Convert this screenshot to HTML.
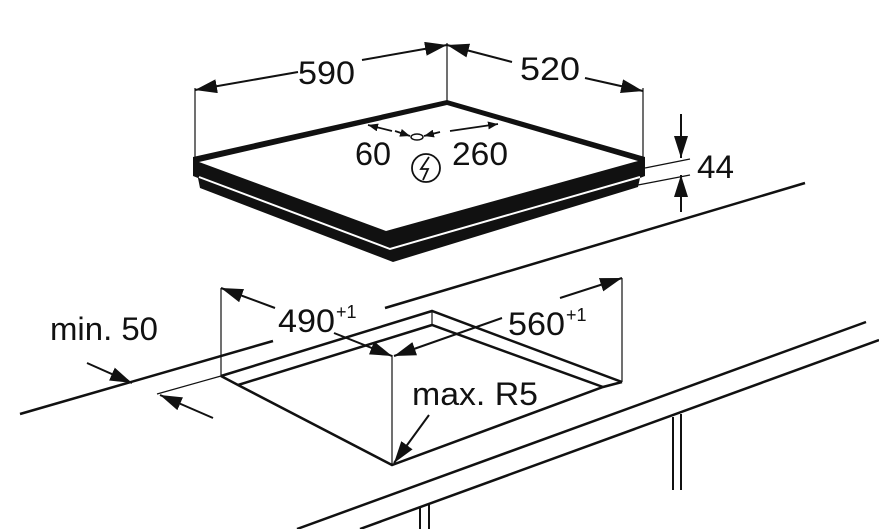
<!DOCTYPE html>
<html><head><style>
html,body{margin:0;padding:0;background:#fff;}
svg{display:block;}
text{font-family:"Liberation Sans",Arial,sans-serif;fill:#111;}
</style></head><body>
<svg width="879" height="529" viewBox="0 0 879 529" xmlns="http://www.w3.org/2000/svg">
<defs>
<marker id="a" markerWidth="10" markerHeight="8" refX="10" refY="4" orient="auto" markerUnits="userSpaceOnUse">
<path d="M0,0 L10,4 L0,8 z" fill="#111"/></marker>
<marker id="b" markerWidth="22" markerHeight="14" refX="22" refY="7" orient="auto" markerUnits="userSpaceOnUse">
<path d="M0,0 L22,7 L0,14 z" fill="#111"/></marker>
</defs>
<g stroke="#111" fill="none">
<polygon points="193,157 447,100 645,157 645,176 640,178 638,187 393,262 200,188 198,178 193,176" fill="#111" stroke="none"/>
<polygon points="199,162 447,105 638,161 386,231" fill="#fff" stroke="none"/>
<polyline points="199,177 390,249 640,177" stroke="#fff" stroke-width="2"/>
<line x1="195" y1="88" x2="195" y2="158" stroke-width="1.2"/>
<line x1="447" y1="43" x2="447" y2="102" stroke-width="1.2"/>
<line x1="643" y1="88" x2="643" y2="160" stroke-width="1.2"/>
<line x1="298" y1="72" x2="195" y2="90" stroke-width="2" marker-end="url(#b)"/>
<line x1="362" y1="60" x2="447" y2="45" stroke-width="2" marker-end="url(#b)"/>
<line x1="512" y1="62" x2="447" y2="45" stroke-width="2" marker-end="url(#b)"/>
<line x1="585" y1="78" x2="643" y2="91" stroke-width="2" marker-end="url(#b)"/>
<line x1="392" y1="131" x2="368" y2="125" stroke-width="1.8" marker-end="url(#a)"/>
<line x1="395" y1="131" x2="410" y2="136" stroke-width="1.8" marker-end="url(#a)"/>
<line x1="440" y1="132" x2="424" y2="136" stroke-width="1.8" marker-end="url(#a)"/>
<line x1="450" y1="131" x2="498" y2="124" stroke-width="1.8" marker-end="url(#a)"/>
<ellipse cx="417" cy="137" rx="6" ry="3" stroke-width="1.5" fill="#fff"/>
<circle cx="426" cy="168" r="14" stroke-width="1.8"/>
<path d="M429,157 L421,169 L428,169 L423,180" stroke-width="1.8"/>
<line x1="645" y1="168" x2="690" y2="159" stroke-width="1.2"/>
<line x1="638" y1="185" x2="690" y2="175" stroke-width="1.2"/>
<line x1="681" y1="114" x2="681" y2="158" stroke-width="2" marker-end="url(#b)"/>
<line x1="681" y1="212" x2="681" y2="175" stroke-width="2" marker-end="url(#b)"/>
<line x1="20" y1="414" x2="273" y2="341" stroke-width="2.5"/>
<line x1="385" y1="308" x2="805" y2="183" stroke-width="2.5"/>
<line x1="157" y1="394" x2="221" y2="376" stroke-width="1.2"/>
<line x1="221" y1="288" x2="221" y2="376" stroke-width="1.2"/>
<line x1="622" y1="278" x2="622" y2="382" stroke-width="1.2"/>
<line x1="432" y1="311" x2="432" y2="325" stroke-width="1.2"/>
<polyline points="221,376 432,311 622,382" stroke-width="2.5"/>
<polyline points="238,385 432,325 603,387" stroke-width="2.5"/>
<polyline points="221,376 238,385 392,465 603,387 622,382" stroke-width="2.5"/>
<line x1="392" y1="355" x2="392" y2="465" stroke-width="1.2"/>
<line x1="275" y1="308" x2="221" y2="288" stroke-width="2" marker-end="url(#b)"/>
<line x1="334" y1="333" x2="392" y2="356" stroke-width="2" marker-end="url(#b)"/>
<line x1="560" y1="298" x2="622" y2="278" stroke-width="2" marker-end="url(#b)"/>
<line x1="502" y1="318" x2="394" y2="356" stroke-width="2" marker-end="url(#b)"/>
<line x1="429" y1="415" x2="394" y2="463" stroke-width="2" marker-end="url(#b)"/>
<line x1="87" y1="363" x2="132" y2="383" stroke-width="2" marker-end="url(#b)"/>
<line x1="213" y1="418" x2="160" y2="395" stroke-width="2" marker-end="url(#b)"/>
<line x1="297" y1="529" x2="866" y2="322" stroke-width="2.5"/>
<line x1="360" y1="529" x2="879" y2="340" stroke-width="2.5"/>
<line x1="673" y1="417" x2="673" y2="490" stroke-width="2"/>
<line x1="681" y1="414" x2="681" y2="490" stroke-width="2"/>
<line x1="420" y1="507" x2="420" y2="529" stroke-width="2"/>
<line x1="429" y1="504" x2="429" y2="529" stroke-width="2"/>
</g>
<g font-size="32" lengthAdjust="spacingAndGlyphs">
<text x="298" y="84" textLength="57" lengthAdjust="spacingAndGlyphs">590</text>
<text x="520" y="80" textLength="60" lengthAdjust="spacingAndGlyphs">520</text>
<text x="355" y="165" textLength="36" lengthAdjust="spacingAndGlyphs">60</text>
<text x="452" y="165" textLength="56" lengthAdjust="spacingAndGlyphs">260</text>
<text x="697" y="178" textLength="37" lengthAdjust="spacingAndGlyphs">44</text>
<text x="50" y="340" textLength="108" lengthAdjust="spacingAndGlyphs">min. 50</text>
<text x="278" y="332" textLength="57" lengthAdjust="spacingAndGlyphs">490</text>
<text x="336" y="318" font-size="18">+1</text>
<text x="508" y="335" textLength="57" lengthAdjust="spacingAndGlyphs">560</text>
<text x="566" y="321" font-size="18">+1</text>
<text x="412" y="405" textLength="126" lengthAdjust="spacingAndGlyphs">max. R5</text>
</g>
</svg>
</body></html>
